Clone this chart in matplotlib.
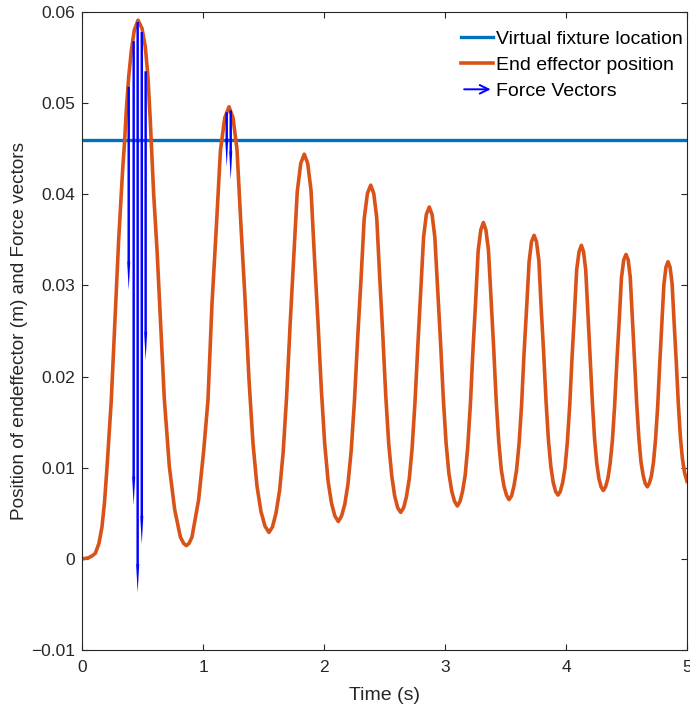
import matplotlib
matplotlib.use("Agg")
import matplotlib.pyplot as plt
from matplotlib.legend_handler import HandlerBase
from matplotlib.patches import FancyArrowPatch
from matplotlib.lines import Line2D

plt.rcParams['font.family'] = ['Liberation Sans', 'DejaVu Sans']

# ---- data ----
time_s = [0.0, 0.05, 0.08, 0.11, 0.14, 0.165, 0.186, 0.207, 0.242, 0.275, 0.303, 0.336, 0.353, 0.366, 0.386, 0.408, 0.432, 0.463,
          0.496, 0.523, 0.545, 0.564, 0.579, 0.592, 0.620, 0.647, 0.680, 0.722, 0.766, 0.813, 0.840, 0.862, 0.885,
          0.909, 0.964, 1.006, 1.041, 1.074, 1.109, 1.144, 1.180, 1.215,
          1.248, 1.281, 1.314, 1.347, 1.380, 1.413, 1.446, 1.479, 1.512, 1.545,
          1.574, 1.603, 1.633, 1.662, 1.691, 1.720, 1.749, 1.779, 1.808, 1.837,
          1.865, 1.893, 1.921, 1.949, 1.978, 2.006, 2.034, 2.062, 2.090, 2.118,
          2.145, 2.172, 2.198, 2.225, 2.252, 2.279, 2.306, 2.332, 2.359, 2.386,
          2.411, 2.436, 2.460, 2.485, 2.510, 2.535, 2.560, 2.584, 2.609, 2.634,
          2.658, 2.681, 2.705, 2.728, 2.752, 2.776, 2.799, 2.823, 2.846, 2.870,
          2.893, 2.916, 2.940, 2.963, 2.986, 3.009, 3.032, 3.056, 3.079, 3.102,
          3.124, 3.145, 3.167, 3.188, 3.210, 3.231, 3.253, 3.274, 3.296, 3.317,
          3.338, 3.359, 3.381, 3.402, 3.423, 3.444, 3.465, 3.487, 3.508, 3.529,
          3.550, 3.570, 3.591, 3.612, 3.633, 3.653, 3.674, 3.695, 3.715, 3.736,
          3.756, 3.776, 3.795, 3.815, 3.835, 3.855, 3.875, 3.894, 3.914, 3.934,
          3.953, 3.973, 3.992, 4.011, 4.031, 4.050, 4.069, 4.088, 4.108, 4.127,
          4.145, 4.163, 4.181, 4.199, 4.218, 4.236, 4.254, 4.272, 4.290, 4.308,
          4.327, 4.346, 4.364, 4.383, 4.402, 4.421, 4.440, 4.458, 4.477, 4.496,
          4.514, 4.531, 4.549, 4.566, 4.584, 4.602, 4.619, 4.637, 4.654, 4.672,
          4.689, 4.706, 4.723, 4.740, 4.758, 4.775, 4.792, 4.809, 4.826, 4.843,
          4.860, 4.877, 4.894, 4.911, 4.928, 4.945, 4.962, 4.979, 4.996, 5.0]
position_m = [0.0, 0.0001, 0.0003, 0.0006, 0.0017, 0.0035, 0.0062, 0.0101, 0.0174, 0.0269, 0.0350, 0.0427, 0.0460, 0.0492, 0.0529, 0.0558, 0.0580, 0.0591,
              0.0582, 0.0562, 0.0529, 0.0482, 0.0438, 0.0401, 0.0339, 0.0266, 0.0176, 0.0101, 0.0054, 0.0024, 0.0017, 0.00145, 0.0017,
              0.0024, 0.0065, 0.0119, 0.0174, 0.0279, 0.0361, 0.0448, 0.0484, 0.0496,
              0.0484, 0.0449, 0.0365, 0.0286, 0.0197, 0.0127, 0.0080, 0.0052, 0.0036, 0.0029,
              0.0035, 0.0050, 0.0075, 0.0116, 0.0178, 0.0257, 0.0328, 0.0403, 0.0434, 0.0444,
              0.0434, 0.0404, 0.0331, 0.0263, 0.0186, 0.0126, 0.0085, 0.0061, 0.0047, 0.0041,
              0.0047, 0.0060, 0.0082, 0.0119, 0.0174, 0.0244, 0.0307, 0.0373, 0.0401, 0.0410,
              0.0401, 0.0374, 0.0310, 0.0248, 0.0180, 0.0126, 0.0091, 0.0069, 0.0056, 0.0051,
              0.0056, 0.0068, 0.0088, 0.0121, 0.0172, 0.0235, 0.0292, 0.0353, 0.0378, 0.0386,
              0.0378, 0.0353, 0.0294, 0.0238, 0.0176, 0.0127, 0.0094, 0.0074, 0.0063, 0.0058,
              0.0063, 0.0074, 0.0092, 0.0123, 0.0170, 0.0229, 0.0282, 0.0338, 0.0361, 0.0369,
              0.0361, 0.0339, 0.0284, 0.0232, 0.0174, 0.0129, 0.0098, 0.0080, 0.0070, 0.0065,
              0.0069, 0.0080, 0.0097, 0.0126, 0.0169, 0.0225, 0.0274, 0.0326, 0.0348, 0.0355,
              0.0348, 0.0327, 0.0275, 0.0227, 0.0173, 0.0130, 0.0101, 0.0084, 0.0074, 0.0070,
              0.0074, 0.0084, 0.0100, 0.0128, 0.0169, 0.0221, 0.0267, 0.0317, 0.0337, 0.0344,
              0.0337, 0.0317, 0.0269, 0.0223, 0.0172, 0.0132, 0.0105, 0.0088, 0.0079, 0.0075,
              0.0079, 0.0088, 0.0104, 0.0129, 0.0168, 0.0218, 0.0262, 0.0308, 0.0328, 0.0334,
              0.0328, 0.0309, 0.0263, 0.0219, 0.0171, 0.0133, 0.0107, 0.0092, 0.0083, 0.0079,
              0.0083, 0.0091, 0.0106, 0.0131, 0.0168, 0.0215, 0.0257, 0.0301, 0.0320, 0.0326,
              0.0320, 0.0302, 0.0258, 0.0217, 0.0171, 0.0134, 0.0110, 0.0095, 0.0087, 0.0085]

fixture_location = 0.046

force_t = [0.386, 0.427, 0.460, 0.494, 0.526, 1.196, 1.229]
force_y0 = [0.0518, 0.0568, 0.0589, 0.0578, 0.0535, 0.0490, 0.0492]
force_dy = [-0.0223, -0.0509, -0.0626, -0.0562, -0.0317, -0.0060, -0.0076]

xticks = [0, 1, 2, 3, 4, 5]
xticklabels = ['0', '1', '2', '3', '4', '5']
yticks = [-0.01, 0.0, 0.01, 0.02, 0.03, 0.04, 0.05, 0.06]
yticklabels = ['\u22120.01', '0', '0.01', '0.02', '0.03', '0.04', '0.05', '0.06']

# ---- figure ----
fig = plt.figure(figsize=(6.9, 7.08), dpi=100)
ax = fig.add_axes([82/690, 1 - 650/708, (687-82)/690, (650-12)/708])

ax.axhline(fixture_location, color='#0072BD', lw=2.4)
ax.plot(time_s, position_m, color='#D95319', lw=2.6, solid_joinstyle='round')
ax.quiver(force_t, force_y0, [0]*len(force_t), force_dy, angles='xy', scale_units='xy', scale=1,
          color='#0000FF', width=0.004, headwidth=1.3, headlength=12, headaxislength=11.5, zorder=3)

ax.set_xlim(0, 5)
ax.set_ylim(-0.01, 0.06)
ax.set_xticks(xticks)
ax.set_xticklabels(xticklabels)
ax.set_yticks(yticks)
ax.set_yticklabels(yticklabels)
ax.tick_params(direction='in', top=True, right=True, length=4.5, width=0.8,
               labelsize=12.5, colors='#262626')
ax.tick_params(axis='x', pad=7)
ax.tick_params(axis='y', pad=5)
for s in ax.spines.values():
    s.set_color('#262626')
    s.set_linewidth(0.8)
ax.set_xlabel('Time (s)', fontsize=14, color='#262626', labelpad=9)
ax.set_ylabel('Position of endeffector (m) and Force vectors', fontsize=13.7, color='#262626', labelpad=2)


class ArrowHandler(HandlerBase):
    def create_artists(self, legend, orig_handle, xdescent, ydescent, width, height, fontsize, trans):
        y = height / 2 - ydescent
        a = FancyArrowPatch((-xdescent, y), (-xdescent + width, y),
                            arrowstyle='->,head_length=0.45,head_width=0.22',
                            mutation_scale=fontsize, color='#0000FF', lw=1.4, transform=trans)
        return [a]


h1 = Line2D([], [], color='#0072BD', lw=2.4)
h2 = Line2D([], [], color='#D95319', lw=2.6)
h3 = Line2D([], [], color='#0000FF')
ax.legend([h1, h2, h3], ['Virtual fixture location', 'End effector position', 'Force Vectors'],
          handler_map={h3: ArrowHandler()}, loc='upper right', bbox_to_anchor=(1.0, 0.977),
          frameon=False, fontsize=14, handlelength=1.65, handletextpad=0.15, labelspacing=0.43,
          borderaxespad=0.0, borderpad=0.2)

fig.savefig('out.png', dpi=100)
